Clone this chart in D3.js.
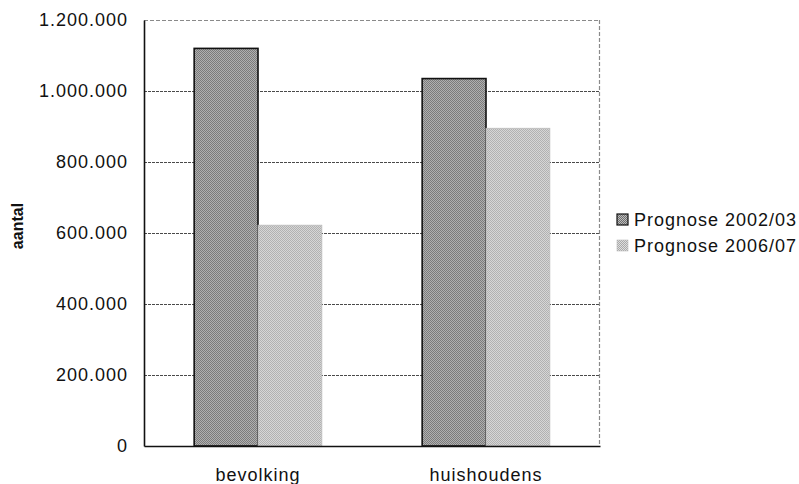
<!DOCTYPE html>
<html>
<head>
<meta charset="utf-8">
<script src="https://cdn.jsdelivr.net/npm/d3@7"></script>
<style>
  html, body { margin: 0; padding: 0; background: #fff; }
  svg { display: block; }
  text { font-family: "Liberation Sans", Arial, Helvetica, sans-serif; fill: #111; }
</style>
</head>
<body>
<svg id="chart" width="799" height="484"></svg>
<script>
// Categories, series and axis ticks
const categories = ["bevolking", "huishoudens"];
const seriesNames = ["Prognose 2002/03", "Prognose 2006/07"];
const prognose2002 = [1120000, 1035000];
const prognose2006 = [622000, 895000];
const yTicks = [0, 200000, 400000, 600000, 800000, 1000000, 1200000];
const yLabel = "aantal";

const seriesValues = [prognose2002, prognose2006];

const svg = d3.select("#chart");
const margin = { left: 144, right: 199, top: 20, bottom: 38 };
const W = 799, H = 484;
const plotW = W - margin.left - margin.right;
const plotH = H - margin.top - margin.bottom;

// Halftone-like fills for the two series
const defs = svg.append("defs");
function halftone(id, dark, light) {
  const p = defs.append("pattern")
    .attr("id", id).attr("patternUnits", "userSpaceOnUse")
    .attr("width", 2).attr("height", 2);
  p.append("rect").attr("width", 2).attr("height", 2).attr("fill", light);
  p.append("rect").attr("width", 1).attr("height", 1).attr("fill", dark);
  p.append("rect").attr("x", 1).attr("y", 1).attr("width", 1).attr("height", 1).attr("fill", dark);
}
halftone("fill2002", "#6e6e6e", "#bdbdbd");
halftone("fill2006", "#a9a9a9", "#dedede");
const fills = ["url(#fill2002)", "url(#fill2006)"];

const g = svg.append("g").attr("transform", `translate(${margin.left},${margin.top})`);

const y = d3.scaleLinear().domain([0, 1200000]).range([plotH, 0]);
const x0 = d3.scaleBand().domain(categories).range([0, plotW])
  .paddingInner(0.44).paddingOuter(0.22);
const x1 = d3.scaleBand().domain(d3.range(seriesNames.length)).range([0, x0.bandwidth()]);

const fmt = v => d3.format(",")(v).replace(/,/g, ".");

// Gridlines
g.append("g").selectAll("line")
  .data(yTicks.filter(t => t > 0 && t < 1200000))
  .join("line")
  .attr("x1", 0).attr("x2", plotW)
  .attr("y1", d => Math.round(y(d)) + 0.5).attr("y2", d => Math.round(y(d)) + 0.5)
  .attr("stroke", "#4a4a4a").attr("stroke-width", 1.2)
  .attr("stroke-dasharray", "3,1");

// Plot frame: top and right edges
g.append("line").attr("x1", 0).attr("x2", plotW).attr("y1", 0.5).attr("y2", 0.5)
  .attr("stroke", "#8a8a8a").attr("stroke-width", 1.2).attr("stroke-dasharray", "4,2");
g.append("line").attr("x1", plotW - 0.5).attr("x2", plotW - 0.5).attr("y1", 0).attr("y2", plotH)
  .attr("stroke", "#8a8a8a").attr("stroke-width", 1.2).attr("stroke-dasharray", "4,2");

// Bars
const groups = g.append("g").selectAll("g")
  .data(categories)
  .join("g")
  .attr("transform", d => `translate(${x0(d)},0)`);

groups.selectAll("rect")
  .data((c, i) => seriesValues.map((vals, s) => ({ s, v: vals[i] })))
  .join("rect")
  .attr("x", d => x1(d.s))
  .attr("y", d => y(d.v))
  .attr("width", x1.bandwidth())
  .attr("height", d => plotH - y(d.v))
  .attr("fill", d => fills[d.s])
  .attr("stroke", d => d.s === 0 ? "#111" : "#bbb")
  .attr("stroke-width", d => d.s === 0 ? 1.6 : 0.8);

// Y axis
const yAxis = g.append("g").call(
  d3.axisLeft(y).tickValues(yTicks).tickFormat(fmt).tickSize(0).tickPadding(16)
);
yAxis.select(".domain").attr("stroke", "#111").attr("stroke-width", 1.6);
yAxis.selectAll("text").style("font-size", "18px").style("letter-spacing", "1px").attr("fill", "#111");

// X axis
const xAxis = g.append("g").attr("transform", `translate(0,${plotH})`).call(
  d3.axisBottom(x0).tickSize(0).tickPadding(22)
);
xAxis.select(".domain").attr("stroke", "#111").attr("stroke-width", 1.6);
xAxis.selectAll("text").style("font-size", "18px").style("letter-spacing", "1px").attr("fill", "#111");

// Y axis title
svg.append("text")
  .attr("transform", `translate(23,226) rotate(-90)`)
  .attr("text-anchor", "middle")
  .style("font-size", "16px").style("font-weight", "bold")
  .text(yLabel);

// Legend
const legend = svg.append("g").attr("transform", "translate(617,214)");
const items = legend.selectAll("g").data(seriesNames).join("g")
  .attr("transform", (d, i) => `translate(0,${i * 26})`);
items.append("rect")
  .attr("width", 11).attr("height", 11)
  .attr("fill", (d, i) => fills[i])
  .attr("stroke", (d, i) => i === 0 ? "#111" : "#bbb")
  .attr("stroke-width", (d, i) => i === 0 ? 1.2 : 0.6);
items.append("text")
  .attr("x", 17).attr("y", 12)
  .style("font-size", "18px").style("letter-spacing", "1px")
  .text(d => d);
</script>
</body>
</html>
